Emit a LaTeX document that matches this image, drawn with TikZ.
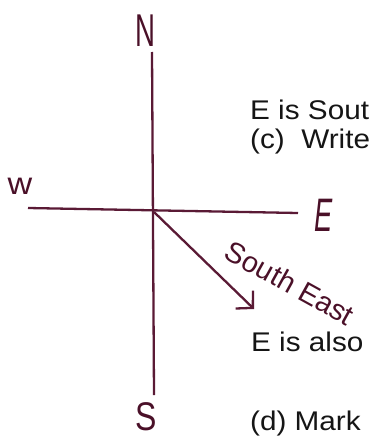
\documentclass[tikz,border=0pt]{standalone}
\usepackage{fontspec}
\setmainfont{Liberation Sans}
\usetikzlibrary{arrows.meta}
\definecolor{pen}{HTML}{5A1A35}
\definecolor{ink}{HTML}{4A1028}
\definecolor{txt}{HTML}{151515}
\begin{document}
\begin{tikzpicture}[x=1pt,y=-1pt,
  axis/.style={draw=pen, line width=2.3pt},
  hand/.style={text=ink, inner sep=0pt, anchor=center},
  body/.style={anchor=base west, inner sep=0pt, text=txt, font=\fontsize{27}{32}\selectfont}]
\useasboundingbox (0,0) rectangle (369,436);
\clip (0,0) rectangle (369,436);
\coordinate (O) at (154,212);
\coordinate (Nend) at (152,52);
\coordinate (Send) at (154,395);
\coordinate (Wend) at (28,208);
\coordinate (Eend) at (298,213);
\coordinate (SE) at (254,309);
\draw[axis] (Nend) -- (Send);
\draw[axis] (Wend) -- (Eend);
\draw[axis, -{Straight Barb[length=12pt,width=25pt,line width=2.3pt]}] (O) -- (SE);
\node[hand] (N) at (145,31) {\fontsize{46}{46}\selectfont\scalebox{0.6}[1]{N}};
\node[hand] (W) at (20,186) {\fontsize{31}{31}\selectfont\scalebox{1.1}[1]{w}};
\node[hand] (E) at (324,215) {\fontsize{47}{47}\selectfont\scalebox{0.58}[1]{\itshape E}};
\node[hand] (S) at (146,417) {\fontsize{40}{40}\selectfont\scalebox{0.8}[1]{S}};
\node[hand, rotate=-29] (southeast) at (290,283) {\fontsize{29}{29}\selectfont South East};
\node[body] (t1) at (250,119) {\scalebox{1.1}[1]{E is South}};
\node[body] (t2) at (250,148) {\scalebox{1.1}[1]{(c)\ \ Write}};
\node[body] (t3) at (251,351) {\scalebox{1.1}[1]{E is also}};
\node[body] (t4) at (250,430) {\scalebox{1.1}[1]{(d) Mark}};
\end{tikzpicture}
\end{document}
